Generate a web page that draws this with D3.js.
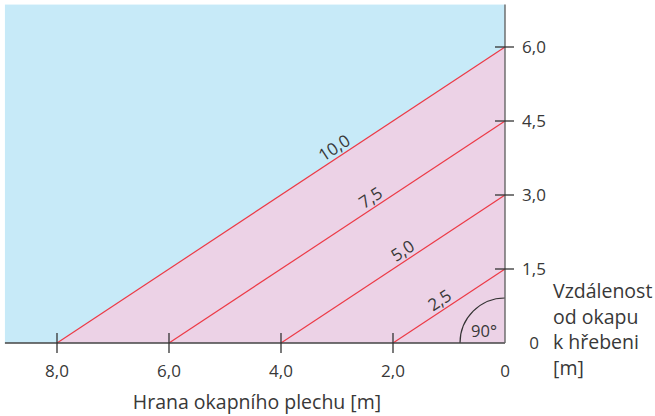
<!DOCTYPE html>
<html><head><meta charset="utf-8">
<script src="https://cdn.jsdelivr.net/npm/d3@7"></script>
<style>
body{margin:0;background:#fff;}
text{font-family:"Open Sans","Noto Sans",sans-serif;fill:#383838;}
</style></head>
<body><svg id="c" width="655" height="416"></svg>
<script>
// Data
const xTicks = [8, 6, 4, 2, 0];
const xTickLabels = ["8,0", "6,0", "4,0", "2,0", "0"];
const yTicks = [0, 1.5, 3, 4.5, 6];
const yTickLabels = ["0", "1,5", "3,0", "4,5", "6,0"];
const lineValues = [10, 7.5, 5, 2.5];          // rafter length labels
const lineLabels = ["10,0", "7,5", "5,0", "2,5"];
const lineRun = [8, 6, 4, 2];                   // horizontal extent (x at y=0)
const lineRise = [6, 4.5, 3, 1.5];              // vertical extent (y at x=0)
const labelAt = [2.95, 2.3, 1.73, 1.07];        // x position of each label along its line
const xExtent = [0, 8.93];
const yExtent = [0, 6.86];

const svg = d3.select("#c");
const x = d3.scaleLinear().domain([0, 8]).range([505, 57]);
const y = d3.scaleLinear().domain([0, 6]).range([343, 47]);

// blue background
svg.append("rect")
  .attr("x", x(xExtent[1])).attr("y", y(yExtent[1]))
  .attr("width", x(xExtent[0]) - x(xExtent[1]))
  .attr("height", y(yExtent[0]) - y(yExtent[1]))
  .attr("fill", "#c7eaf8");

// pink triangle
svg.append("path")
  .attr("d", d3.line()([[x(lineRun[0]), y(0)], [x(0), y(lineRise[0])], [x(0), y(0)]]) + "Z")
  .attr("fill", "#ecd2e6");

// red lines
svg.selectAll("line.r").data(lineValues).enter().append("line")
  .attr("x1", (d, i) => x(lineRun[i])).attr("y1", y(0))
  .attr("x2", x(0)).attr("y2", (d, i) => y(lineRise[i]))
  .attr("stroke", "#ec3a46").attr("stroke-width", 1.2);

// line labels
svg.selectAll("text.ll").data(lineLabels).enter().append("text")
  .attr("transform", (d, i) => {
    const xv = labelAt[i];
    const yv = lineRise[i] * (1 - xv / lineRun[i]);
    const ang = Math.atan2(y(0) - y(lineRise[i]), x(0) - x(lineRun[i])) * 180 / Math.PI;
    return `translate(${x(xv)},${y(yv)}) rotate(${-ang}) translate(0,-4)`;
  })
  .attr("text-anchor", "middle")
  .style("font-size", "17px")
  .text(d => d);

// right-angle arc
const arc = d3.arc()({innerRadius: 45, outerRadius: 45, startAngle: -Math.PI / 2, endAngle: 0});
svg.append("path").attr("d", arc)
  .attr("transform", `translate(${x(0)},${y(0)})`)
  .attr("fill", "none").attr("stroke", "#333").attr("stroke-width", 1.2);
svg.append("text").attr("x", x(0) - 21).attr("y", y(0) - 6)
  .attr("text-anchor", "middle").style("font-size", "16.5px").text("90°");

// axes lines
svg.append("line").attr("x1", x(xExtent[1])).attr("x2", x(0))
  .attr("y1", y(0)).attr("y2", y(0)).attr("stroke", "#444").attr("stroke-width", 1.4);
svg.append("line").attr("x1", x(0)).attr("x2", x(0))
  .attr("y1", y(yExtent[1])).attr("y2", y(0)).attr("stroke", "#666").attr("stroke-width", 1.4);

// x ticks
const xg = svg.selectAll("g.xt").data(xTicks).enter().append("g")
  .attr("transform", d => `translate(${x(d)},${y(0)})`);
xg.filter(d => d !== 0).append("line").attr("y1", -10).attr("y2", 10)
  .attr("stroke", "#333").attr("stroke-width", 1.3);
xg.append("text").attr("y", 34).attr("text-anchor", "middle")
  .style("font-size", "17px").text((d, i) => xTickLabels[i]);

// y ticks
const yg = svg.selectAll("g.yt").data(yTicks).enter().append("g")
  .attr("transform", d => `translate(${x(0)},${y(d)})`);
yg.filter(d => d !== 0).append("line").attr("x1", -10).attr("x2", 9)
  .attr("stroke", "#333").attr("stroke-width", 1.3);
yg.append("text").attr("x", 29).attr("y", 6).attr("text-anchor", "middle")
  .style("font-size", "17px").text((d, i) => yTickLabels[i]);

// axis titles
svg.append("text").attr("x", 257).attr("y", 409).attr("text-anchor", "middle")
  .style("font-size", "19.5px").text("Hrana okapního plechu [m]");
const yt = svg.append("text").attr("x", 553).attr("y", 298).style("font-size", "19.5px");
["Vzdálenost", "od okapu", "k hřebeni", "[m]"].forEach((t, i) => {
  yt.append("tspan").attr("x", 553).attr("dy", i === 0 ? 0 : 25.5).text(t);
});
</script></body></html>
